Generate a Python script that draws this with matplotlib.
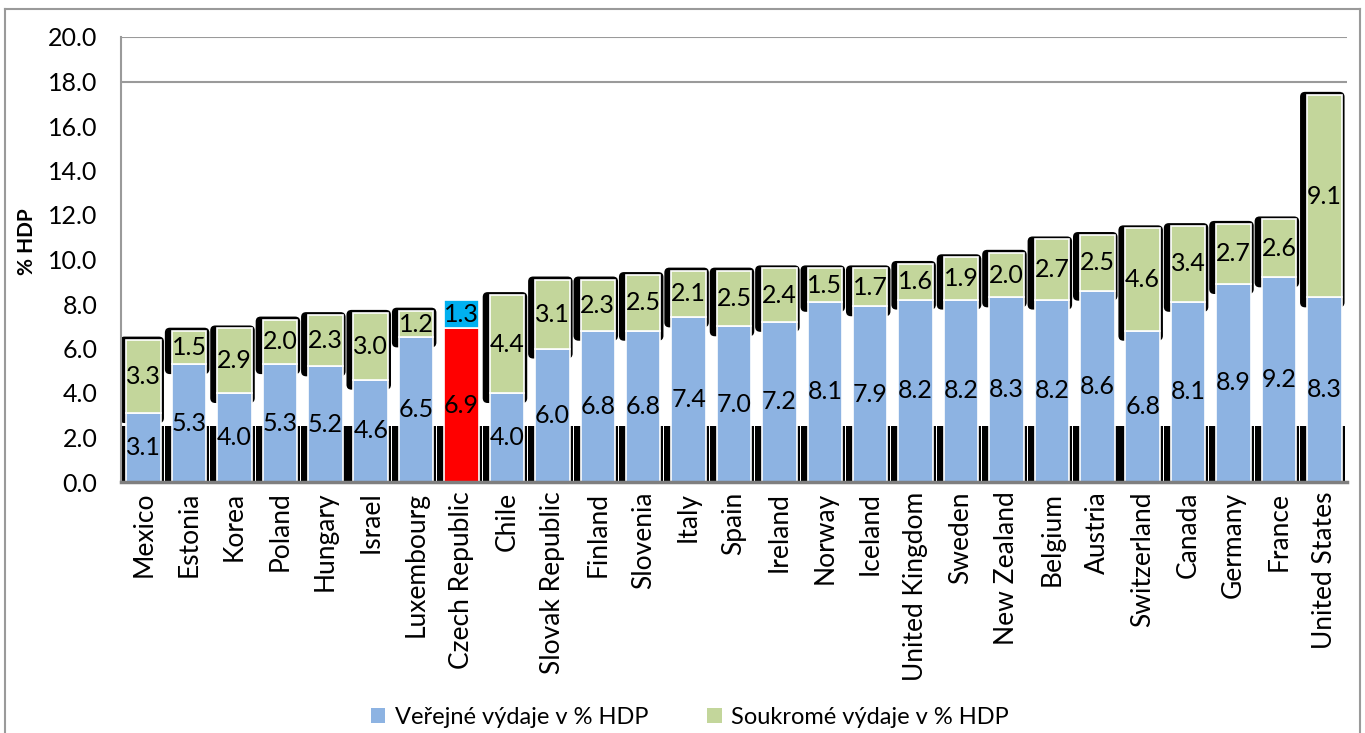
import matplotlib
matplotlib.use("Agg")
import matplotlib.pyplot as plt
from matplotlib.patches import FancyBboxPatch, Rectangle
from matplotlib.lines import Line2D
import numpy as np

countries = ["Mexico", "Estonia", "Korea", "Poland", "Hungary", "Israel", "Luxembourg",
             "Czech Republic", "Chile", "Slovak Republic", "Finland", "Slovenia", "Italy",
             "Spain", "Ireland", "Norway", "Iceland", "United Kingdom", "Sweden",
             "New Zealand", "Belgium", "Austria", "Switzerland", "Canada", "Germany",
             "France", "United States"]
public = [3.1, 5.3, 4.0, 5.3, 5.2, 4.6, 6.5, 6.9, 4.0, 6.0, 6.8, 6.8, 7.4, 7.0, 7.2,
          8.1, 7.9, 8.2, 8.2, 8.3, 8.2, 8.6, 6.8, 8.1, 8.9, 9.2, 8.3]
private = [3.3, 1.5, 2.9, 2.0, 2.3, 3.0, 1.2, 1.3, 4.4, 3.1, 2.3, 2.5, 2.1, 2.5, 2.4,
           1.5, 1.7, 1.6, 1.9, 2.0, 2.7, 2.5, 4.6, 3.4, 2.7, 2.6, 9.1]
highlight = "Czech Republic"
yticks = [0, 2, 4, 6, 8, 10, 12, 14, 16, 18, 20]
legend_labels = ["Veřejné výdaje v % HDP", "Soukromé výdaje v % HDP"]

C_PUB = "#8DB3E2"
C_PRIV = "#C3D69B"
C_PUB_HL = "#FF0000"
C_PRIV_HL = "#00B0F0"

plt.rcParams['font.family'] = ['Lato', 'DejaVu Sans']

W, H = 1365, 733
fig = plt.figure(figsize=(W / 100, H / 100), dpi=100)
AX_L, AX_R, AX_B, AX_T = 121, 1347, 482, 37
ax = fig.add_axes([AX_L / W, 1 - AX_B / H, (AX_R - AX_L) / W, (AX_B - AX_T) / H])

n = len(countries)
x = np.arange(n)
bw = 0.76
ax.set_xlim(-0.5, n - 0.5)
ax.set_ylim(0, 20)

pxx = (AX_R - AX_L) / n          # px per x unit
pxy = (AX_B - AX_T) / 20.0       # px per y unit
lpad = 7 / pxx
rpad = 3 / pxx
tpad = 3 / pxy

# shadows
for i in range(n):
    left = x[i] - bw / 2
    # bottom strip
    ax.add_patch(Rectangle((left - lpad, 0), lpad + bw + rpad, 2.5,
                           facecolor="black", edgecolor="none", zorder=1))
    if countries[i] == highlight:
        continue
    tot = public[i] + private[i]
    y0 = public[i] - 0.45
    ax.add_patch(FancyBboxPatch((left - lpad, y0), lpad + bw + rpad, tot + tpad - y0,
                                boxstyle="round,pad=0,rounding_size=0.11",
                                mutation_aspect=pxx / pxy,
                                facecolor="black", edgecolor="none", zorder=1))

pub_colors = [C_PUB_HL if c == highlight else C_PUB for c in countries]
priv_colors = [C_PRIV_HL if c == highlight else C_PRIV for c in countries]
ax.bar(x, public, bw, color=pub_colors, edgecolor="white", linewidth=1.2, zorder=3)
ax.bar(x, private, bw, bottom=public, color=priv_colors, edgecolor="white", linewidth=1.2, zorder=3)

for i in range(n):
    ax.text(x[i], public[i] / 2, f"{public[i]:.1f}", ha="center", va="center",
            fontsize=18, color="black", zorder=5)
    ax.text(x[i], public[i] + private[i] / 2, f"{private[i]:.1f}", ha="center", va="center",
            fontsize=18, color="black", zorder=5)

# gridlines only at top
for gy in [18, 20]:
    ax.axhline(gy, color="#9A9A9A", linewidth=1.5, zorder=0)

ax.set_yticks(yticks)
ax.set_yticklabels([f"{v:.1f}" for v in yticks], fontsize=18)
ax.set_xticks(x)
ax.set_xticklabels(countries, rotation=90, fontsize=19)
ax.tick_params(axis="both", length=0)
ax.tick_params(axis="y", pad=17)
ax.tick_params(axis="x", pad=7)
for s in ["top", "right"]:
    ax.spines[s].set_visible(False)
ax.spines["left"].set_color("#9A9A9A")
ax.spines["left"].set_linewidth(1.5)
ax.spines["bottom"].set_color("#7F7F7F")
ax.spines["bottom"].set_linewidth(2.5)
ax.spines["bottom"].set_zorder(6)

ax.set_ylabel("% HDP", fontsize=15, fontweight="bold")
ax.yaxis.label.set_va("center")
ax.yaxis.set_label_coords((27 - AX_L) / (AX_R - AX_L), (AX_B - 242) / (AX_B - AX_T))

handles = [Rectangle((0, 0), 1, 1, facecolor=C_PUB, edgecolor="none"),
           Rectangle((0, 0), 1, 1, facecolor=C_PRIV, edgecolor="none")]
fig.legend(handles, legend_labels, loc="center", bbox_to_anchor=(690 / W, 1 - 717 / H),
           ncol=2, frameon=False, fontsize=17, handlelength=0.6, handleheight=0.6,
           handletextpad=0.4, columnspacing=2.5)

# figure border
kw = dict(transform=fig.transFigure, color="#9A9A9A", linewidth=1.5)
fig.add_artist(Line2D([5 / W, 5 / W], [0, 1 - 9 / H], **kw))
fig.add_artist(Line2D([5 / W, 1360 / W], [1 - 9 / H, 1 - 9 / H], **kw))
fig.add_artist(Line2D([1360 / W, 1360 / W], [0, 1 - 9 / H], **kw))

fig.savefig("out.png", dpi=100, facecolor="white")
